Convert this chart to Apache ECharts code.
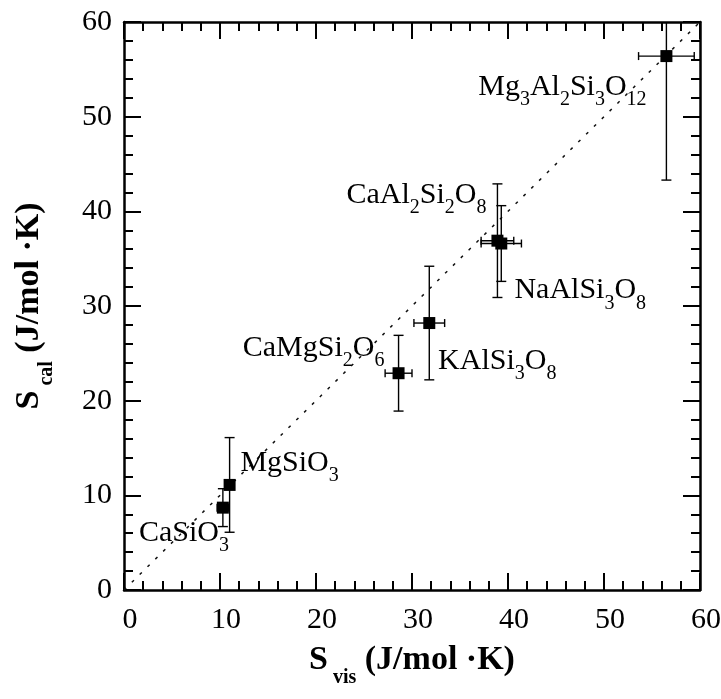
<!DOCTYPE html>
<html><head><meta charset="utf-8">
<script src="https://cdn.jsdelivr.net/npm/echarts@6/dist/echarts.min.js"></script>
<style>html,body{margin:0;padding:0;background:#fff}#c{width:721px;height:699px}</style>
</head><body><div id="c"></div>
<script>
// ---- data ----
const compounds = ['Mg{3}Al{2}Si{3}O{12}', 'CaAl{2}Si{2}O{8}', 'NaAlSi{3}O{8}', 'KAlSi{3}O{8}', 'CaMgSi{2}O{6}', 'MgSiO{3}', 'CaSiO{3}'];
const sVis    = [56.5, 38.9, 39.3, 31.8, 28.6, 11.0, 10.3];
const sCal    = [56.4, 36.9, 36.6, 28.2, 22.9, 11.1, 8.7];
const sVisErr = [2.9, 1.7, 2.1, 1.6, 1.4, 0, 0.6];
const sCalErr = [13.1, 6.0, 4.0, 6.0, 4.0, 5.0, 2.0];
const axisTicks = [0, 10, 20, 30, 40, 50, 60];
const identityLine = [[0, 0], [60, 60]];
// label placement (styling, px offsets from each point)
const labelOffsets = [[-104, 35], [-81, -42], [79, 51], [68, 42], [-85, -21], [60, -18], [-39, 29]];

const SERIF = '"Liberation Serif", "DejaVu Serif", serif';
function toRich(s) {
  let out = '';
  const re = /([^{]+)|\{([^}]+)\}/g; let m;
  while ((m = re.exec(s))) { out += m[1] ? '{n|' + m[1] + '}' : '{s|' + m[2] + '}'; }
  return out;
}
const tMin = axisTicks[0], tMax = axisTicks[axisTicks.length - 1], tInt = axisTicks[1] - axisTicks[0];
const base = {
  type: 'value', min: tMin, max: tMax, interval: tInt,
  axisLine: { show: true, onZero: false, lineStyle: { color: '#000', width: 2.5 } },
  axisTick: { show: true, inside: true, length: 17, lineStyle: { color: '#000', width: 2 } },
  minorTick: { show: true, splitNumber: 5, length: 9, lineStyle: { color: '#000', width: 2 } },
  splitLine: { show: false }, minorSplitLine: { show: false }
};
const nameRich = {
  n: { fontFamily: SERIF, fontWeight: 'bold', fontSize: 34, lineHeight: 34, verticalAlign: 'top', color: '#000' },
  s: { fontFamily: SERIF, fontWeight: 'bold', fontSize: 20, lineHeight: 45, verticalAlign: 'bottom', color: '#000' }
};
const errData = sVis.map((x, i) => [x, sCal[i], sVisErr[i], sCalErr[i]]);
const ptData = sVis.map((x, i) => ({
  value: [x, sCal[i]],
  label: { offset: labelOffsets[i], formatter: toRich(compounds[i]) }
}));

function renderErr(params, api) {
  const x = api.value(0), y = api.value(1), xe = api.value(2), ye = api.value(3);
  const st = { stroke: '#000', lineWidth: 1.4 };
  const L = (x1, y1, x2, y2) => ({ type: 'line', shape: { x1, y1, x2, y2 }, style: st });
  const kids = [];
  if (ye > 0) {
    const t = api.coord([x, y + ye]), b = api.coord([x, y - ye]);
    kids.push(L(t[0], t[1], b[0], b[1]), L(t[0] - 5, t[1], t[0] + 5, t[1]), L(b[0] - 5, b[1], b[0] + 5, b[1]));
  }
  if (xe > 0) {
    const l = api.coord([x - xe, y]), r = api.coord([x + xe, y]);
    kids.push(L(l[0], l[1], r[0], r[1]), L(l[0], l[1] - 4, l[0], l[1] + 4), L(r[0], r[1] - 4, r[0], r[1] + 4));
  }
  return { type: 'group', children: kids };
}

const chart = echarts.init(document.getElementById('c'), null, { renderer: 'canvas' });
chart.setOption({
  animation: false,
  backgroundColor: '#fff',
  grid: { left: 124, right: 21, top: 22, bottom: 109, containLabel: false, outerBoundsMode: 'none' },
  xAxis: [
    Object.assign({}, base, {
      position: 'bottom',
      name: '{n|S}{s| vis}{n| (J/mol ·K)}', nameLocation: 'middle', nameGap: 53,
      nameTextStyle: { rich: nameRich },
      axisLabel: { show: true, margin: 15, showMinLabel: true, showMaxLabel: true, hideOverlap: false,
        formatter: v => '{t|' + v + '}',
        rich: { t: { fontFamily: SERIF, fontSize: 30, color: '#000', padding: [0, 0, 0, 12] } } }
    }),
    Object.assign({}, base, { position: 'top', axisLabel: { show: false } })
  ],
  yAxis: [
    Object.assign({}, base, {
      position: 'left',
      name: '{n|S}{s| cal}{n| (J/mol ·K)}', nameLocation: 'middle', nameGap: 67,
      nameTextStyle: { rich: nameRich },
      axisLabel: { show: true, margin: 12, showMinLabel: true, showMaxLabel: true, hideOverlap: false,
        fontFamily: SERIF, fontSize: 30, color: '#000' }
    }),
    Object.assign({}, base, { position: 'right', axisLabel: { show: false } })
  ],
  series: [
    { type: 'line', data: identityLine, symbol: 'none', silent: true, z: 1,
      lineStyle: { color: '#111', width: 1.5, type: [3, 8] } },
    { type: 'custom', data: errData, renderItem: renderErr, clip: true, silent: true, z: 2,
      encode: { x: 0, y: 1 } },
    { type: 'scatter', data: ptData, symbol: 'rect', symbolSize: 12, z: 3, silent: true,
      itemStyle: { color: '#000', opacity: 1 },
      label: { show: true, position: 'inside', color: '#000', opacity: 1,
        rich: {
          n: { fontFamily: SERIF, fontSize: 30, lineHeight: 30, verticalAlign: 'top', color: '#000' },
          s: { fontFamily: SERIF, fontSize: 20, lineHeight: 38, verticalAlign: 'bottom', color: '#000' }
        } } }
  ]
});
</script></body></html>
